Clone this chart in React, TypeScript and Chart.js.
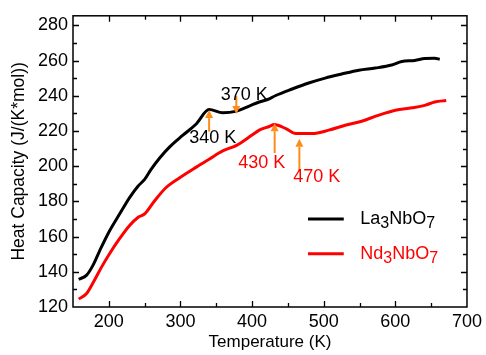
import { useEffect, useRef } from "react";
import { Chart, registerables } from "chart.js";

Chart.register(...registerables);

// ---- data ----
const laTemps = [158, 169, 178, 187.5, 200, 215, 229, 241, 250, 259, 271, 285, 303, 322, 340, 359, 377, 396, 410, 424, 433, 456, 479, 502, 525, 549, 572, 595, 609, 627, 641, 655, 662];
const laCp = [135.7, 138.1, 143.8, 152.2, 162.5, 172.8, 182.2, 188.8, 192.5, 198.2, 204.7, 211, 217.5, 224, 232.2, 230.4, 231.2, 234.2, 236.5, 238.3, 240.2, 243.9, 247.3, 250.1, 252.4, 254.6, 255.8, 257.5, 259.5, 260.1, 261.2, 261.4, 260.8];
const ndTemps = [158, 169, 178, 190, 201, 215, 229, 241, 250, 264, 280, 299, 322, 340, 359, 379, 400, 410, 424, 431, 447, 461, 484, 507, 530, 553, 576, 600, 623, 641, 655, 671];
const ndCp = [124.5, 127.7, 133.8, 142.8, 150.3, 158.8, 166.3, 171, 172.9, 180.4, 187.9, 193.5, 199.5, 204, 208.7, 212, 217.7, 220.5, 222.6, 223.7, 221.4, 218.6, 218.6, 220.5, 223.3, 225.6, 228.9, 231.8, 233.2, 234.6, 236.5, 237.4];

const xTickValues = [200, 300, 400, 500, 600, 700];
const yTickValues = [120, 140, 160, 180, 200, 220, 240, 260, 280];
const xMin = 150;
const xMax = 700;
const yMin = 120;
const yMax = 285.5;

const seriesNames = ["La3NbO7", "Nd3NbO7"];
const seriesColors = ["#000000", "#ff0000"];

// annotation arrows (temperature, start Cp, tip Cp)
const arrowTemps = [340, 378, 431.5, 466];
const arrowFrom = [219.7, 240, 207.5, 197.2];
const arrowTo = [231.9, 229.7, 224.4, 215.6];
const arrowColor = "#ff8c1a";

// annotation labels
const noteTexts = ["340 K", "370 K", "430 K", "470 K"];
const noteTemps = [345, 389, 413.6, 490.3];
const noteCps = [215.9, 240.7, 201.9, 193.6];
const noteColors = ["#000000", "#000000", "#ff0000", "#ff0000"];

// legend placement (data coords)
const legendLineT = [478, 528];
const legendTextT = 551;
const legendCps = [170, 150.3];

const FAMILY = "'Liberation Sans', Arial, Helvetica, sans-serif";

const framePlugin = {
  id: "framePlugin",
  afterDraw(chart: any) {
    const { ctx, chartArea } = chart;
    const xs = chart.scales.x;
    const ys = chart.scales.y;
    const { left, right, top, bottom } = chartArea;
    ctx.save();
    // frame
    ctx.strokeStyle = "#000";
    ctx.lineWidth = 1.5;
    ctx.strokeRect(left, top, right - left, bottom - top);
    // inward ticks
    ctx.lineWidth = 1.3;
    ctx.beginPath();
    for (let v = xMin + 50; v < xMax; v += 50) {
      const px = Math.round(xs.getPixelForValue(v)) + 0.5;
      const len = v % 100 === 0 ? 6 : 4;
      ctx.moveTo(px, bottom);
      ctx.lineTo(px, bottom - len);
      ctx.moveTo(px, top);
      ctx.lineTo(px, top + len);
    }
    for (let v = yMin + 10; v <= 280; v += 10) {
      const py = Math.round(ys.getPixelForValue(v)) + 0.5;
      const len = v % 20 === 0 ? 6 : 4;
      ctx.moveTo(left, py);
      ctx.lineTo(left + len, py);
      ctx.moveTo(right, py);
      ctx.lineTo(right - len, py);
    }
    ctx.stroke();

    // arrows
    ctx.strokeStyle = arrowColor;
    ctx.fillStyle = arrowColor;
    ctx.lineWidth = 2;
    arrowTemps.forEach((t, i) => {
      const px = xs.getPixelForValue(t);
      const y0 = ys.getPixelForValue(arrowFrom[i]);
      const y1 = ys.getPixelForValue(arrowTo[i]);
      const dir = y1 < y0 ? -1 : 1;
      const head = 8;
      ctx.beginPath();
      ctx.moveTo(px, y0);
      ctx.lineTo(px, y1 - dir * head);
      ctx.stroke();
      ctx.beginPath();
      ctx.moveTo(px, y1);
      ctx.lineTo(px - 4, y1 - dir * head);
      ctx.lineTo(px + 4, y1 - dir * head);
      ctx.closePath();
      ctx.fill();
    });

    // annotation labels
    ctx.font = `18px ${FAMILY}`;
    ctx.textAlign = "center";
    ctx.textBaseline = "middle";
    noteTexts.forEach((txt, i) => {
      ctx.fillStyle = noteColors[i];
      ctx.fillText(txt, xs.getPixelForValue(noteTemps[i]), ys.getPixelForValue(noteCps[i]));
    });

    // legend
    seriesNames.forEach((name, i) => {
      const py = ys.getPixelForValue(legendCps[i]);
      ctx.strokeStyle = seriesColors[i];
      ctx.lineWidth = 3;
      ctx.beginPath();
      ctx.moveTo(xs.getPixelForValue(legendLineT[0]), py);
      ctx.lineTo(xs.getPixelForValue(legendLineT[1]), py);
      ctx.stroke();
      ctx.fillStyle = seriesColors[i];
      ctx.textAlign = "left";
      ctx.textBaseline = "middle";
      let x = xs.getPixelForValue(legendTextT);
      const parts = name.match(/[A-Za-z]+|\d+/g) || [];
      parts.forEach((p) => {
        const isSub = /\d/.test(p);
        ctx.font = isSub ? `16px ${FAMILY}` : `18px ${FAMILY}`;
        ctx.fillText(p, x, isSub ? py + 5 : py);
        x += ctx.measureText(p).width;
      });
    });
    ctx.restore();
  },
};

export default function App() {
  const ref = useRef<HTMLCanvasElement | null>(null);
  useEffect(() => {
    if (!ref.current) return;
    const mk = (ts: number[], cs: number[]) => ts.map((t, i) => ({ x: t, y: cs[i] }));
    const chart = new Chart(ref.current, {
      type: "line",
      data: {
        datasets: [
          {
            label: seriesNames[0],
            data: mk(laTemps, laCp),
            borderColor: seriesColors[0],
            borderWidth: 3,
            pointRadius: 0,
            tension: 0.3,
            cubicInterpolationMode: "monotone",
          },
          {
            label: seriesNames[1],
            data: mk(ndTemps, ndCp),
            borderColor: seriesColors[1],
            borderWidth: 3,
            pointRadius: 0,
            tension: 0.3,
            cubicInterpolationMode: "monotone",
          },
        ],
      },
      options: {
        responsive: false,
        animation: false,
        layout: { padding: { left: 0, right: 17, top: 13, bottom: 0 } },
        plugins: { legend: { display: false }, tooltip: { enabled: false } },
        scales: {
          x: {
            type: "linear",
            min: xMin,
            max: xMax,
            afterBuildTicks: (s: any) => {
              s.ticks = xTickValues.map((v) => ({ value: v }));
            },
            afterFit: (s: any) => {
              s.height = 48;
            },
            grid: { display: false, drawTicks: false },
            border: { display: false },
            ticks: {
              padding: 4,
              color: "#000",
              font: { size: 18, family: FAMILY },
              callback: (v: any) => String(v),
            },
            title: {
              display: true,
              text: "Temperature (K)",
              color: "#000",
              font: { size: 17, family: FAMILY },
              padding: { top: 0, bottom: 2 },
            },
          },
          y: {
            type: "linear",
            min: yMin,
            max: yMax,
            afterBuildTicks: (s: any) => {
              s.ticks = yTickValues.map((v) => ({ value: v }));
            },
            afterFit: (s: any) => {
              s.width = 73;
            },
            grid: { display: false, drawTicks: false },
            border: { display: false },
            ticks: {
              padding: 5,
              color: "#000",
              font: { size: 18, family: FAMILY },
              callback: (v: any) => String(v),
            },
            title: {
              display: true,
              text: "Heat Capacity (J/(K*mol))",
              color: "#000",
              font: { size: 17.5, family: FAMILY },
              padding: { top: 9, bottom: 0 },
            },
          },
        },
      },
      plugins: [framePlugin],
    } as any);
    return () => chart.destroy();
  }, []);
  return (
    <div style={{ position: "absolute", left: 0, top: 0, width: 486, height: 355, background: "#fff" }}>
      <canvas ref={ref} width={486} height={355} />
    </div>
  );
}
